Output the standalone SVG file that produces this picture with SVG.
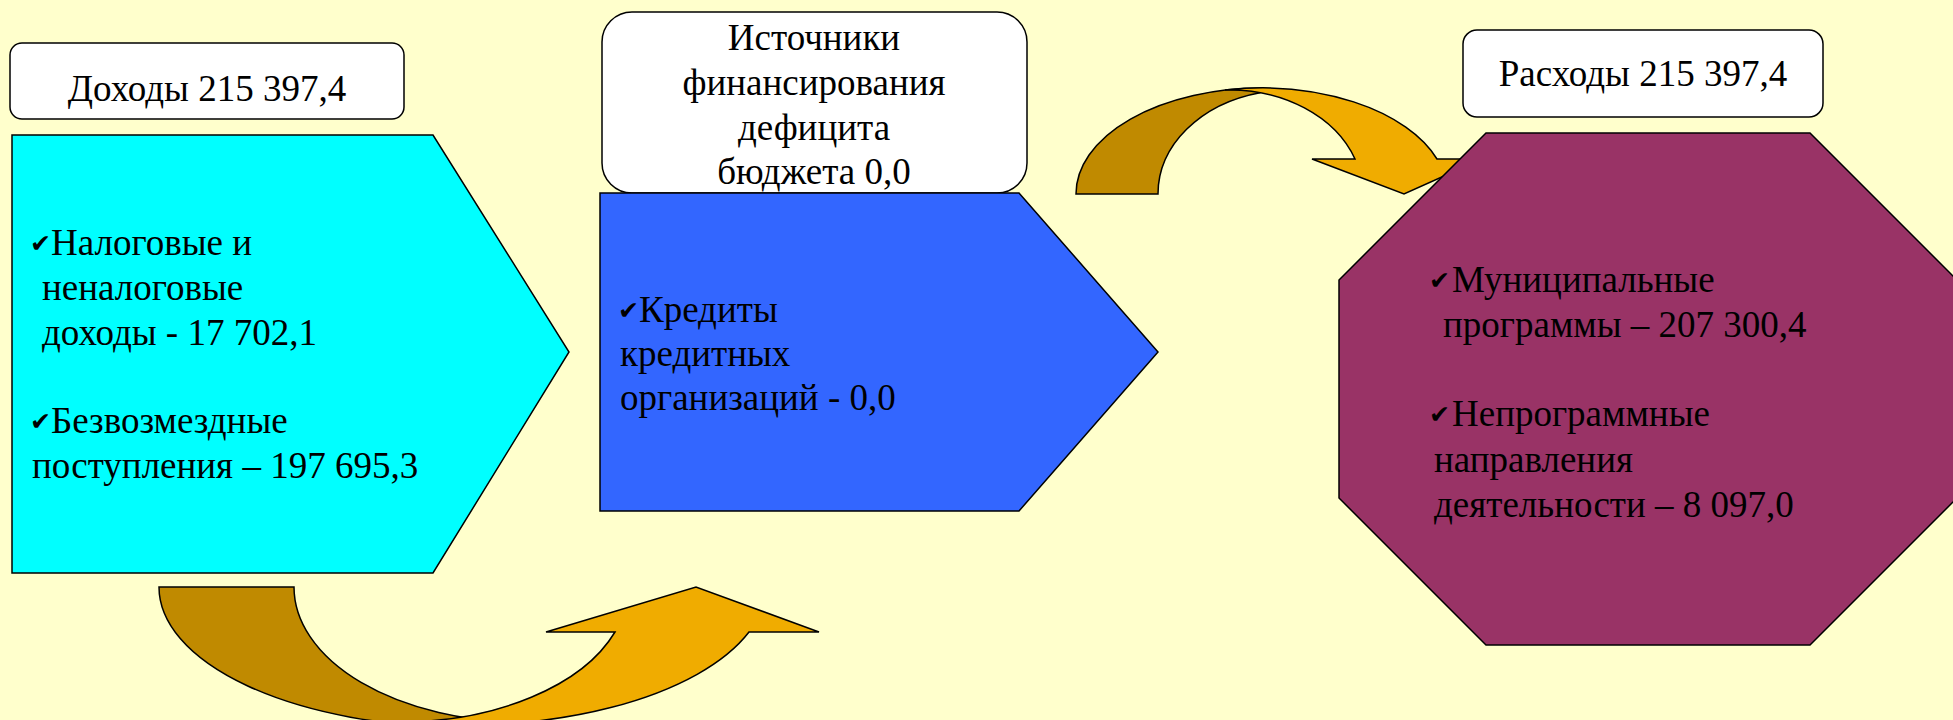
<svg xmlns="http://www.w3.org/2000/svg" width="1953" height="720" viewBox="0 0 1953 720">
<defs>
<style>
.box{fill:#fff;stroke:#000;stroke-width:1.5}
.sh{stroke:#000;stroke-width:1.5;stroke-linejoin:miter}
.brown{fill:#C08A00;stroke:#000;stroke-width:1.5}
.orange{fill:#F0AC00;stroke:#000;stroke-width:1.5}
.t{font-family:"Liberation Serif","Times New Roman",serif;font-size:37px;fill:#000}
.m{text-anchor:middle}
.ck{font-family:"DejaVu Sans",sans-serif;font-size:25px;fill:#000}
</style>
</defs>
<rect width="1953" height="720" fill="#FFFFCC"/>

<g id="connectors">
  <g id="arrow-bottom">
    <path class="brown" d="M159,587 L294,587 A229,135 0 0 0 523,722 L462,727 A303,140 0 0 1 159,587 Z"/>
    <path class="orange" d="M399,722 A303,140 0 0 0 749,632 L819,632 L696,587 L546,632 L615,632 A229,135 0 0 1 399,722 Z"/>
  </g>
  <g id="arrow-top">
    <path class="brown" d="M1076,194 A186,106 0 0 1 1262,88 L1260,92.7 A132,104 0 0 0 1158,194 Z"/>
    <path class="orange" d="M1225,90 A186,106 0 0 1 1437,159 L1482,159 L1404,194 L1312,159 L1355,159 A133,104 0 0 0 1225,90 Z"/>
  </g>
</g>

<g id="node-dokhody-title">
  <rect class="box" x="10" y="43" width="394" height="76" rx="12"/>
  <text class="t m" x="207" y="101">Доходы 215 397,4</text>
</g>
<g id="node-dokhody">
  <polygon class="sh" fill="#00FFFF" points="12,135 433,135 569,352 433,573 12,573"/>
  <text class="ck" x="30" y="252">✔</text>
  <text class="ck" x="30" y="430">✔</text>
  <text class="t" x="51" y="255">Налоговые и</text>
  <text class="t" x="42" y="300">неналоговые</text>
  <text class="t" x="42" y="345">доходы - 17 702,1</text>
  <text class="t" x="51" y="433">Безвозмездные</text>
  <text class="t" x="32" y="478">поступления – 197 695,3</text>
</g>

<g id="node-istochniki-title">
  <rect class="box" x="602" y="12" width="425" height="181" rx="30"/>
  <text class="t m" x="814" y="50">Источники</text>
  <text class="t m" x="814" y="95">финансирования</text>
  <text class="t m" x="814" y="140">дефицита</text>
  <text class="t m" x="814" y="184">бюджета 0,0</text>
</g>
<g id="node-istochniki">
  <polygon class="sh" fill="#3366FF" points="600,193 1019,193 1158,352 1019,511 600,511"/>
  <text class="ck" x="618" y="319">✔</text>
  <text class="t" x="639" y="322">Кредиты</text>
  <text class="t" x="620" y="366">кредитных</text>
  <text class="t" x="620" y="410">организаций - 0,0</text>
</g>

<g id="node-raskhody-title">
  <rect class="box" x="1463" y="30" width="360" height="87" rx="14"/>
  <text class="t m" x="1643" y="86">Расходы 215 397,4</text>
</g>
<g id="node-raskhody">
  <polygon class="sh" fill="#993366" points="1486,133 1810,133 1957,280 1957,498 1810,645 1486,645 1339,498 1339,280"/>
  <text class="ck" x="1429" y="289">✔</text>
  <text class="ck" x="1429" y="423">✔</text>
  <text class="t" x="1452" y="292">Муниципальные</text>
  <text class="t" x="1443" y="337">программы – 207 300,4</text>
  <text class="t" x="1452" y="426">Непрограммные</text>
  <text class="t" x="1434" y="472">направления</text>
  <text class="t" x="1434" y="517">деятельности – 8 097,0</text>
</g>
</svg>
